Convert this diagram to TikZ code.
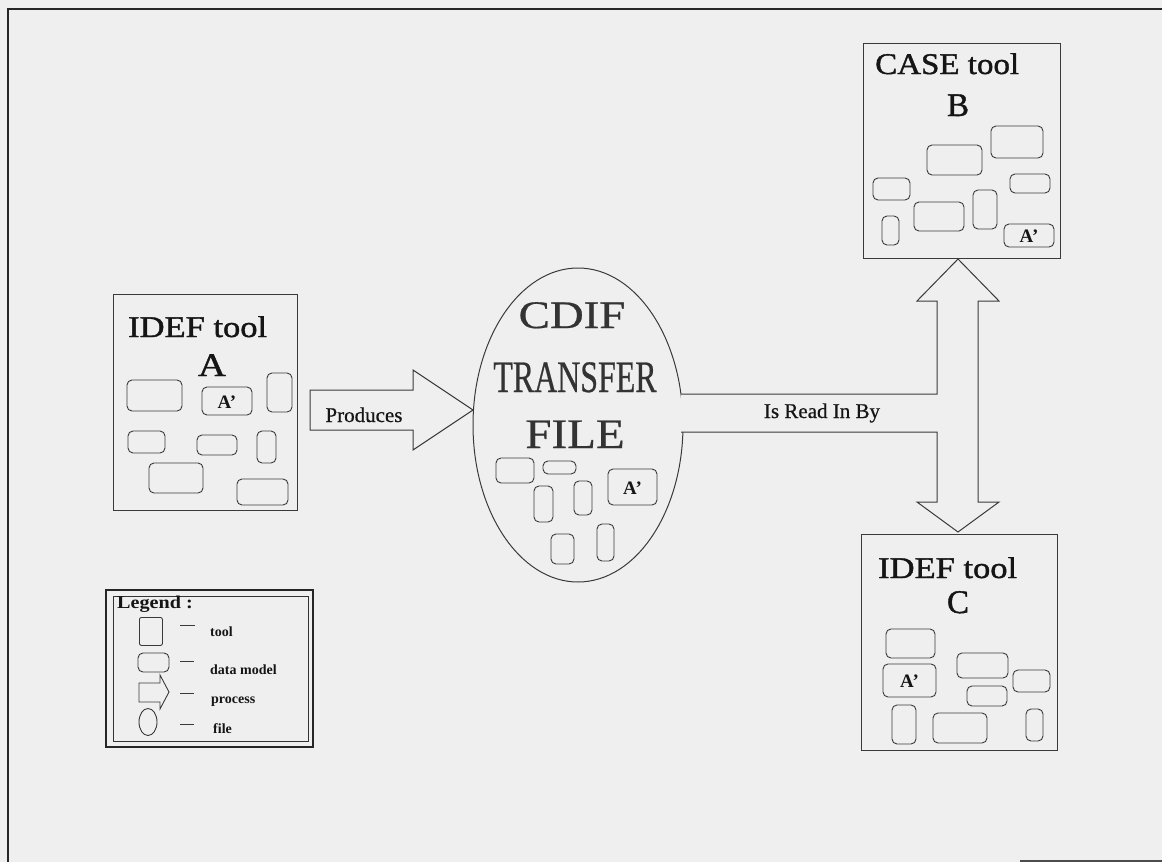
\documentclass[tikz,border=0pt]{standalone}
\usepackage{fontspec}
\setmainfont{Liberation Serif}
\newfontfamily\heavyserif{Liberation Serif}[FakeBold=1.2]
\newfontfamily\semiserif{Liberation Serif}[FakeBold=0.6]
\usetikzlibrary{shapes.geometric}
\definecolor{bgc}{HTML}{EFEFEF}
\definecolor{linec}{HTML}{3A3A3A}
\definecolor{txtc}{HTML}{151515}
\newcommand\rrect[4]{\draw[dm] (#1,#2) rectangle (#3,#4);}
\newcommand\arect[5]{\draw[dm] (#1,#2) rectangle (#3,#4);
  \node[aprime] (#5) at ({(#1+#3)/2},{(#2+#4)/2+1}) {A'};}
\tikzset{
  dm/.style={draw=linec, line width=0.9pt, rounded corners=5pt},
  toolbox/.style={draw=linec, line width=1pt, anchor=north west, inner sep=0pt},
  aprime/.style={font=\fontsize{19}{19}\selectfont\bfseries, text=txtc, inner sep=0pt},
  title/.style={font=\heavyserif\fontsize{30}{30}\selectfont, text=txtc, inner sep=0pt, anchor=base west},
  letter/.style={font=\heavyserif\fontsize{33}{33}\selectfont, text=txtc, inner sep=0pt, anchor=base},
  lbl/.style={font=\semiserif\fontsize{21}{21}\selectfont, text=txtc, inner sep=0pt, anchor=base},
  cdif/.style={font=\semiserif\fontsize{#1}{#1}\selectfont, text=black!80, inner sep=0pt, anchor=base},
  legtxt/.style={font=\fontsize{14}{14}\selectfont\bfseries, text=txtc, inner sep=0pt, anchor=base west},
  blockarrow/.style={draw=linec, line width=1pt, fill=bgc, line join=miter},
  legdash/.style={draw=linec, line width=0.9pt},
}
\begin{document}
\begin{tikzpicture}[x=1pt,y=-1pt]
\fill[bgc] (0,0) rectangle (1162,862);
\useasboundingbox (0,0) rectangle (1162,862);
% outer frame
\draw[line width=2pt, black!85] (8,862) -- (8,9) -- (1162,9);
\draw[line width=1.6pt, black!70] (1020,861) -- (1162,861);

% ---------- Tool A ----------
\node[toolbox, minimum width=184pt, minimum height=216pt] (toolA) at (113,294) {};
\node[title] (tA) at (128,337) {\scalebox{1.15}[1]{IDEF tool}};
\node[letter] (lA) at (212,376) {\scalebox{1.17}[1]{A}};
\rrect{127}{380}{182}{411}
\arect{202}{387}{252}{415}{apA}
\rrect{267}{373}{292}{412}
\rrect{128}{431}{165}{453}
\rrect{197}{435}{237}{455}
\rrect{257}{431}{276}{463}
\rrect{149}{463}{203}{493}
\rrect{237}{479}{288}{505}

% ---------- CDIF file ----------
\node[draw=linec, line width=1pt, ellipse, minimum width=210pt, minimum height=314pt, inner sep=0pt] (file) at (578,425) {};
\node[cdif=39] (t1) at (572,328) {\scalebox{1.2}[1]{CDIF}};
\node[cdif=45] (t2) at (575,392) {\scalebox{0.71}[1]{TRANSFER}};
\node[cdif=42] (t3) at (575,448) {\scalebox{1.12}[1]{FILE}};
\rrect{496}{458}{534}{483}
\rrect{543}{461}{576}{474}
\arect{608}{469}{657}{505}{apF}
\rrect{534}{486}{553}{522}
\rrect{574}{481}{592}{515}
\rrect{551}{534}{574}{564}
\rrect{597}{524}{614}{561}

% ---------- Produces arrow ----------
\draw[blockarrow] (310,390) -- (413,390) -- (413,370) -- (473,410) -- (413,450) -- (413,430) -- (310,430) -- cycle;
\node[lbl] (prod) at (364,422) {Produces};

% ---------- Tool B ----------
\node[toolbox, minimum width=197pt, minimum height=215pt] (toolB) at (863,43) {};
\node[title] (tB) at (875,74) {\scalebox{1.1}[1]{CASE tool}};
\node[letter] (lB) at (958,116) {B};
\rrect{927}{145}{982}{175}
\rrect{991}{126}{1043}{158}
\rrect{873}{178}{910}{200}
\rrect{1010}{174}{1050}{193}
\rrect{914}{202}{964}{231}
\rrect{973}{190}{997}{229}
\rrect{882}{216}{899}{245}
\arect{1004}{224}{1054}{247}{apB}

% ---------- Tool C ----------
\node[toolbox, minimum width=196pt, minimum height=216pt] (toolC) at (861,534) {};
\node[title] (tC) at (878,578) {\scalebox{1.15}[1]{IDEF tool}};
\node[letter] (lC) at (958,613) {C};
\rrect{886}{629}{935}{658}
\arect{883}{664}{936}{697}{apC}
\rrect{957}{653}{1008}{678}
\rrect{1013}{670}{1050}{692}
\rrect{967}{686}{1007}{706}
\rrect{892}{705}{916}{744}
\rrect{933}{713}{987}{743}
\rrect{1026}{709}{1043}{741}

% ---------- Is Read In By double arrow ----------
\fill[bgc] (681,394) -- (937,394) -- (937,301) -- (917,301) -- (958,259) -- (999,301) -- (978,301) -- (978,502) -- (999,502) -- (958,532) -- (917,502) -- (937,502) -- (937,432) -- (681,432) -- cycle;
\draw[draw=linec, line width=1pt, line join=miter] (681,394) -- (937,394) -- (937,301) -- (917,301) -- (958,259) -- (999,301) -- (978,301) -- (978,502) -- (999,502) -- (958,532) -- (917,502) -- (937,502) -- (937,432) -- (681,432);
\node[lbl] (read) at (822,418) {Is Read In By};

% ---------- Legend ----------
\draw[line width=2pt, black!85] (106,590) rectangle (313,747);
\draw[line width=1pt, black!80] (113,596) rectangle (308,741);
\node[legtxt, font=\fontsize{18}{18}\selectfont\bfseries] (leg) at (117,608) {\scalebox{1.12}[1]{Legend :}};
\node[draw=linec, line width=0.9pt, rounded corners=2pt, minimum width=23pt, minimum height=28pt, anchor=north west, inner sep=0pt] (lgTool) at (139,617) {};
\draw[legdash] (180,625) -- (195,625);
\node[legtxt] (lt1) at (210,636) {tool};
\draw[dm] (138,653) rectangle (169,672);
\draw[legdash] (180,661) -- (194,661);
\node[legtxt] (lt2) at (210,674) {data model};
\draw[draw=linec, line width=0.9pt] (139,683) -- (160,683) -- (160,675) -- (169,692) -- (160,709) -- (160,702) -- (139,702) -- cycle;
\draw[legdash] (180,693) -- (194,693);
\node[legtxt] (lt3) at (211,703) {process};
\node[draw=linec, line width=0.9pt, ellipse, minimum width=18pt, minimum height=27pt, inner sep=0pt] (lgFile) at (148,722) {};
\draw[legdash] (180,724) -- (194,724);
\node[legtxt] (lt4) at (213,733) {file};
\end{tikzpicture}
\end{document}
